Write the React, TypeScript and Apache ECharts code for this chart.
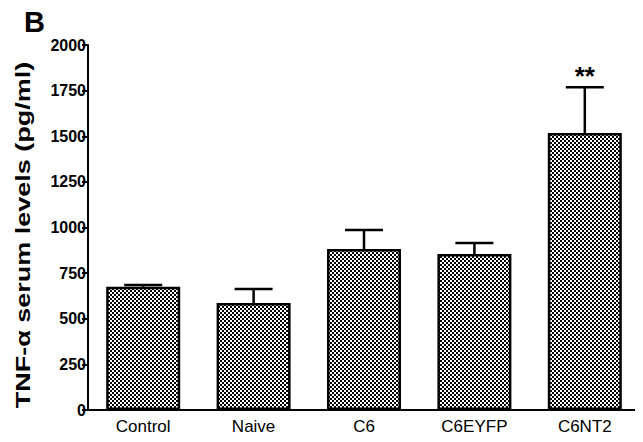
import React, { useEffect, useRef } from "react";
import * as echarts from "echarts";

const categories = ["Control", "Naive", "C6", "C6EYFP", "C6NT2"];
const means = [675, 586, 882, 855, 1518];
const errors = [10, 77, 104, 60, 250];
const significance = ["", "", "", "", "**"];
const yTicks = { min: 0, max: 2000, interval: 250 };
const yTitle = "TNF-α serum levels (pg/ml)";
const panelLabel = "B";

function makePattern(): HTMLCanvasElement {
  const c = document.createElement("canvas");
  c.width = 4;
  c.height = 4;
  const ctx = c.getContext("2d")!;
  ctx.fillStyle = "#ffffff";
  ctx.fillRect(0, 0, 4, 4);
  ctx.fillStyle = "#000000";
  ctx.fillRect(0, 0, 2, 2);
  ctx.fillRect(2, 2, 2, 2);
  return c;
}

export default function App() {
  const ref = useRef<HTMLDivElement>(null);
  useEffect(() => {
    if (!ref.current) return;
    const chart = echarts.init(ref.current, undefined, { renderer: "svg" });
    const pattern = makePattern();
    const font = "'Liberation Sans', Arial, sans-serif";
    chart.setOption({
      animation: false,
      backgroundColor: "#ffffff",
      textStyle: { fontFamily: font },
      grid: { left: 88, right: 3, top: 45, bottom: 32, containLabel: false },
      graphic: [
        {
          type: "text",
          left: 24,
          top: 7,
          style: { text: panelLabel, font: `bold 29px ${font}`, fill: "#000" },
        },
        {
          type: "text",
          x: 23,
          y: 235,
          rotation: Math.PI / 2,
          scaleX: 1,
          scaleY: 0.74,
          style: {
            text: yTitle,
            font: `bold 27px ${font}`,
            fill: "#000",
            align: "center",
            verticalAlign: "middle",
          },
        },
      ],
      xAxis: {
        type: "category",
        data: categories,
        axisLine: { lineStyle: { color: "#000", width: 2 } },
        axisTick: { show: false },
        axisLabel: { color: "#000", fontSize: 17, margin: 8, fontFamily: font },
      },
      yAxis: {
        type: "value",
        min: yTicks.min,
        max: yTicks.max,
        interval: yTicks.interval,
        axisLine: { show: true, lineStyle: { color: "#000", width: 2 } },
        axisTick: { show: true, length: 6, lineStyle: { color: "#000", width: 2 } },
        axisLabel: {
          color: "#000",
          fontSize: 16,
          fontWeight: "bold",
          margin: 2,
          fontFamily: font,
          formatter: (v: number) => String(v),
        },
        splitLine: { show: false },
      },
      series: [
        {
          type: "bar",
          data: means,
          barWidth: 74,
          itemStyle: {
            color: { image: pattern, repeat: "repeat" },
            borderColor: "#000",
            borderWidth: 2.5,
          },
          z: 2,
        },
        {
          type: "custom",
          z: 3,
          data: means.map((m, i) => [i, m, m + errors[i]]),
          renderItem: (params: any, api: any) => {
            const idx = api.value(0);
            const top = api.coord([idx, api.value(1)]);
            const hi = api.coord([idx, api.value(2)]);
            const half = 19;
            const children: any[] = [
              {
                type: "line",
                shape: { x1: top[0], y1: top[1], x2: hi[0], y2: hi[1] },
                style: { stroke: "#000", lineWidth: 2.5 },
              },
              {
                type: "line",
                shape: { x1: hi[0] - half, y1: hi[1], x2: hi[0] + half, y2: hi[1] },
                style: { stroke: "#000", lineWidth: 2.5 },
              },
            ];
            const sig = significance[params.dataIndex];
            if (sig) {
              children.push({
                type: "text",
                style: {
                  text: sig,
                  x: hi[0],
                  y: hi[1] + 2,
                  align: "center",
                  verticalAlign: "bottom",
                  font: `bold 26px ${font}`,
                  fill: "#000",
                },
              });
            }
            return { type: "group", children };
          },
        },
      ],
    });
    return () => chart.dispose();
  }, []);
  return <div ref={ref} style={{ width: 643, height: 442, margin: -8 }} />;
}
